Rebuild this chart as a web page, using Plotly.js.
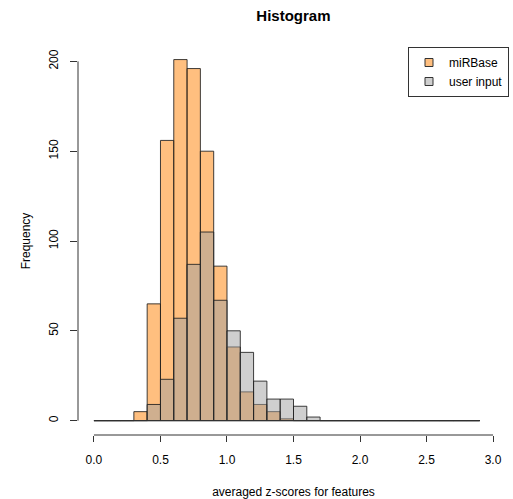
<!DOCTYPE html>
<html>
<head>
<meta charset="utf-8">
<script src="https://cdn.plot.ly/plotly-3.0.1.min.js"></script>
<style>html,body{margin:0;padding:0;background:#fff;}#chart{width:513px;height:499px;}</style>
</head>
<body>
<div id="chart"></div>
<script>
// Histogram bins: start and width
var binStart = 0.0;
var binWidth = 0.1;
// counts for bins 0.0-0.1, 0.1-0.2, ..., 2.8-2.9
var mirbaseCounts = [0,0,0,5,65,156,201,196,150,86,41,16,9,5,1,0,0,0,0,0,0,0,0,0,0,0,0,0,0];
var userCounts    = [0,0,0,0,9,23,57,87,105,67,50,38,22,12,12,8,2,0,0,0,0,0,0,0,0,0,0,0,0];
var seriesNames = ["miRBase", "user input"];
var xTicks = [0, 0.5, 1, 1.5, 2, 2.5, 3];
var yTicks = [0, 50, 100, 150, 200];

var centers = mirbaseCounts.map(function(_, i){ return binStart + binWidth*(i+0.5); });
var lastEdge = binStart + binWidth*mirbaseCounts.length;

var font = "Liberation Sans, Arial, sans-serif";
var edge = {color: "rgba(30,30,30,0.85)", width: 1};
var fills = ["rgba(255,128,0,0.5)", "rgba(160,160,160,0.5)"];

var traces = [
  {type: "scatter", mode: "lines", x: [binStart, lastEdge], y: [0, 0],
   line: {color: "#333", width: 1}, showlegend: false, hoverinfo: "skip"},
  {type: "bar", name: seriesNames[0], x: centers, y: mirbaseCounts, width: binWidth,
   marker: {color: fills[0], line: edge}, showlegend: false},
  {type: "bar", name: seriesNames[1], x: centers, y: userCounts, width: binWidth,
   marker: {color: fills[1], line: edge}, showlegend: false},
  // legend keys (small squares, as in the original)
  {type: "scatter", mode: "markers", name: seriesNames[0], x: [null], y: [null],
   marker: {symbol: "square", size: 8, color: fills[0], line: {color: "#333", width: 1}}},
  {type: "scatter", mode: "markers", name: seriesNames[1], x: [null], y: [null],
   marker: {symbol: "square", size: 8, color: fills[1], line: {color: "#333", width: 1}}}
];

var layout = {
  width: 513, height: 499,
  margin: {l: 78, r: 4, t: 47, b: 64},
  paper_bgcolor: "#fff", plot_bgcolor: "#fff",
  barmode: "overlay", bargap: 0,
  font: {family: font, size: 12, color: "#000"},
  title: {text: "<b>Histogram</b>", font: {family: font, size: 15, color: "#000"},
          x: 0.572, xanchor: "center", y: 0.968, yanchor: "middle", yref: "container"},
  xaxis: {range: [-0.12, 3.12], tickvals: xTicks, tickformat: ".1f",
          ticks: "outside", ticklen: 6, tickcolor: "#333", ticklabelstandoff: 8,
          showgrid: false, zeroline: false, showline: false,
          title: {text: "averaged z-scores for features", font: {family: font, size: 12, color: "#000"}, standoff: 22}},
  yaxis: {range: [-8, 208], tickvals: yTicks, tickangle: -90,
          ticks: "outside", ticklen: 7, tickcolor: "#333", ticklabelstandoff: 7,
          showgrid: false, zeroline: false, showline: false,
          title: {text: "Frequency", font: {family: font, size: 12, color: "#000"}, standoff: 14}},
  legend: {x: 1, y: 1, xanchor: "right", yanchor: "top", bgcolor: "#fff",
           bordercolor: "#333", borderwidth: 1, font: {family: font, size: 12, color: "#000"},
           tracegroupgap: 0, itemwidth: 30},
  shapes: [
    {type: "line", xref: "x", yref: "paper", x0: xTicks[0], x1: xTicks[xTicks.length-1], y0: 0, y1: 0,
     line: {color: "#333", width: 1}},
    {type: "line", xref: "paper", yref: "y", x0: 0, x1: 0, y0: yTicks[0], y1: yTicks[yTicks.length-1],
     line: {color: "#333", width: 1}}
  ]
};

Plotly.newPlot("chart", traces, layout, {displayModeBar: false, staticPlot: true});
</script>
</body>
</html>
